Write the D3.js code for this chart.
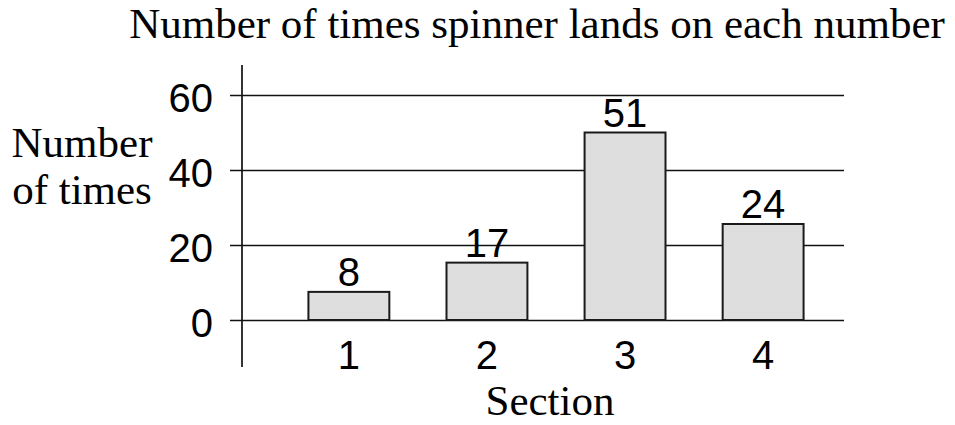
<!DOCTYPE html>
<html>
<head>
<meta charset="utf-8">
<script src="https://cdn.jsdelivr.net/npm/d3@7"></script>
<style>
  html, body { margin: 0; padding: 0; background: #fff; }
  svg { display: block; }
</style>
</head>
<body>
<svg id="chart" width="955" height="425"></svg>
<script>
// Data
const categories = ["1", "2", "3", "4"];
const barHeights = [7.5, 15.3, 50, 25.6];   // drawn bar heights as they appear
const barLabels = ["8", "17", "51", "24"];    // numbers printed above bars
const yTicks = [0, 20, 40, 60];
const titleText = "Number of times spinner lands on each number";
const yTitleLines = ["Number", "of times"];
const xTitleText = "Section";

const svg = d3.select("#chart");
const sans = "'Liberation Sans', Arial, sans-serif";
const serif = "'Liberation Serif', 'Times New Roman', serif";

const y = d3.scaleLinear().domain([0, 60]).range([320, 95]);
const x = d3.scaleBand().domain(categories).range([267, 845])
  .paddingInner(0.414).paddingOuter(0.3);

const gridLeft = 230, gridRight = 844, axisX = 242;

// Gridlines + y tick labels
const yAxis = d3.axisLeft(y).tickValues(yTicks).tickFormat(d3.format("d"))
  .tickSizeInner(gridRight - gridLeft).tickSizeOuter(0).tickPadding(17);
const gy = svg.append("g").attr("transform", `translate(${gridRight},0)`).call(yAxis);
gy.select(".domain").remove();
gy.selectAll(".tick line").attr("stroke", "#111").attr("stroke-width", 1.7);
gy.selectAll(".tick text")
  .attr("font-family", sans).attr("font-size", 40).attr("fill", "#000")
  .attr("dy", "0.41em");

// Vertical axis line
svg.append("line")
  .attr("x1", axisX).attr("x2", axisX)
  .attr("y1", y(68)).attr("y2", y(-12.5))
  .attr("stroke", "#111").attr("stroke-width", 1.7);

// Bars
svg.append("g").selectAll("rect")
  .data(categories)
  .join("rect")
  .attr("x", d => x(d))
  .attr("width", x.bandwidth())
  .attr("y", (d, i) => y(barHeights[i]))
  .attr("height", (d, i) => y(0) - y(barHeights[i]))
  .attr("fill", "#dedede")
  .attr("stroke", "#1a1a1a")
  .attr("stroke-width", 2);

// Bar labels
svg.append("g").selectAll("text")
  .data(categories)
  .join("text")
  .attr("x", d => x(d) + x.bandwidth() / 2)
  .attr("y", (d, i) => y(barHeights[i]) - 6)
  .attr("text-anchor", "middle")
  .attr("font-family", sans).attr("font-size", 40).attr("fill", "#000")
  .text((d, i) => barLabels[i]);

// X axis labels
const xAxis = d3.axisBottom(x).tickSize(0).tickPadding(0);
const gx = svg.append("g").call(xAxis);
gx.select(".domain").remove();
gx.selectAll(".tick text")
  .attr("y", 369).attr("dy", null)
  .attr("font-family", sans).attr("font-size", 40).attr("fill", "#000");

// Title
svg.append("text")
  .attr("x", 537).attr("y", 38)
  .attr("text-anchor", "middle")
  .attr("font-family", serif).attr("font-size", 43).attr("fill", "#000")
  .text(titleText);

// Y title
svg.append("g").selectAll("text")
  .data(yTitleLines)
  .join("text")
  .attr("x", 82)
  .attr("y", (d, i) => 157 + i * 47)
  .attr("text-anchor", "middle")
  .attr("font-family", serif).attr("font-size", 43).attr("fill", "#000")
  .text(d => d);

// X title
svg.append("text")
  .attr("x", 550).attr("y", 415)
  .attr("text-anchor", "middle")
  .attr("font-family", serif).attr("font-size", 43).attr("fill", "#000")
  .text(xTitleText);
</script>
</body>
</html>
